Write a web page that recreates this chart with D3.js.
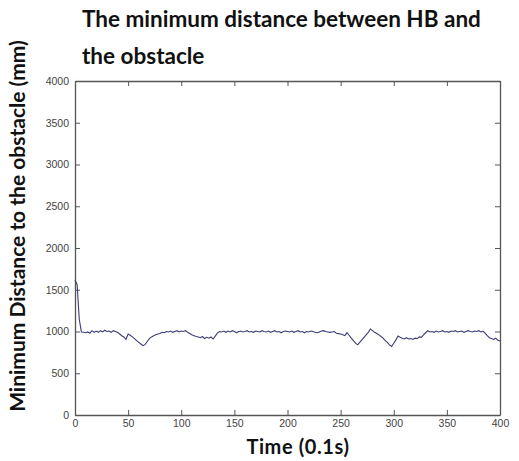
<!DOCTYPE html>
<html><head><meta charset="utf-8">
<script src="https://cdn.jsdelivr.net/npm/d3@7"></script>
<style>
body{margin:0;background:#fff;}
svg{display:block;}
</style></head>
<body>
<svg id="chart" width="519" height="461"></svg>
<script>
// Data: time step (0.1 s units) every 2 steps, minimum distance (mm)
const timeSteps = d3.range(0, 401, 2);
const distances = [
1620,1560,1150,995,990,985,995,980,1010,990,
1005,990,1010,995,1015,1000,1005,990,1010,1000,
990,970,950,935,905,970,955,935,915,890,
870,850,830,845,880,915,935,950,960,970,
975,990,985,1000,995,1005,990,1000,1010,995,
1005,1000,1010,990,975,960,950,940,935,925,
940,915,930,920,935,910,945,980,1000,995,
1005,990,1005,995,1010,1000,985,1000,1005,995,
1000,1010,995,1000,990,1005,1000,995,1010,1000,
995,1005,990,1000,1010,995,1000,985,1000,1005,
1000,995,1005,990,1000,1010,995,1000,985,1000,
995,1005,1000,990,985,995,1005,1010,1000,995,
990,995,1000,980,975,970,960,950,985,955,
920,890,860,840,870,900,930,960,990,1030,
1010,990,975,960,940,920,890,870,840,820,
860,900,945,930,920,910,925,910,915,905,
920,915,935,930,960,985,1010,995,1000,990,
1005,995,1000,1010,995,1000,990,1005,1000,1010,
995,1000,1005,990,1000,1010,1000,995,1005,1000,
1010,995,1005,980,950,925,915,905,920,895,
885
];
const xTicks = [0,50,100,150,200,250,300,350,400];
const yTicks = [0,500,1000,1500,2000,2500,3000,3500,4000];
const titleLines = ["The minimum distance between HB and", "the obstacle"];
const xLabel = "Time (0.1s)";
const yLabel = "Minimum Distance to the obstacle (mm)";

const data = timeSteps.map((t,i)=>({t, v: distances[i]}));

const svg = d3.select("#chart");
const L = 75, R = 500, T = 81, B = 415;
const x = d3.scaleLinear().domain([0,400]).range([L,R]);
const y = d3.scaleLinear().domain([0,4000]).range([B,T]);

const axisColor = "#555";
const tickFont = "'Liberation Sans', Arial, sans-serif";
const fmt = d3.format("d");

// bottom axis
const gx = svg.append("g").attr("transform",`translate(0,${B})`)
  .call(d3.axisBottom(x).tickValues(xTicks).tickFormat(fmt).tickSizeInner(-5).tickSizeOuter(0).tickPadding(5));
// left axis
const gy = svg.append("g").attr("transform",`translate(${L},0)`)
  .call(d3.axisLeft(y).tickValues(yTicks).tickFormat(fmt).tickSizeInner(-5).tickSizeOuter(0).tickPadding(6));
// top axis (ticks only)
const gt = svg.append("g").attr("transform",`translate(0,${T})`)
  .call(d3.axisTop(x).tickValues(xTicks).tickSizeInner(-5).tickSizeOuter(0).tickFormat(""));
// right axis (ticks only)
const gr = svg.append("g").attr("transform",`translate(${R},0)`)
  .call(d3.axisRight(y).tickValues(yTicks).tickSizeInner(-5).tickSizeOuter(0).tickFormat(""));

[gx,gy,gt,gr].forEach(g=>{
  g.selectAll("path.domain").attr("stroke",axisColor).attr("stroke-width",1.3);
  g.selectAll(".tick line").attr("stroke",axisColor);
  g.selectAll(".tick text").attr("fill","#444").style("font-family",tickFont).style("font-size","10.5px");
});

// data line
svg.append("path").datum(data)
  .attr("fill","none")
  .attr("stroke","#3c3c78")
  .attr("stroke-width",1.1)
  .attr("d", d3.line().x(d=>x(d.t)).y(d=>y(d.v)));

const boldFont = "Lato, 'Open Sans', sans-serif";
// title
svg.append("text").attr("x",82).attr("y",27)
  .style("font-family",boldFont).style("font-weight","bold").style("font-size","22.5px").attr("fill","#111")
  .text(titleLines[0]);
svg.append("text").attr("x",82).attr("y",64)
  .style("font-family",boldFont).style("font-weight","bold").style("font-size","22.5px").attr("fill","#111")
  .text(titleLines[1]);
// x label
svg.append("text").attr("x",298).attr("y",454).attr("text-anchor","middle")
  .style("font-family",boldFont).style("font-weight","bold").style("font-size","20px")
  .style("letter-spacing","0.6px").attr("fill","#111")
  .text(xLabel);
// y label
svg.append("text").attr("transform","translate(25,226) rotate(-90)").attr("text-anchor","middle")
  .style("font-family",boldFont).style("font-weight","bold").style("font-size","21px").attr("fill","#111")
  .text(yLabel);
</script>
</body></html>
